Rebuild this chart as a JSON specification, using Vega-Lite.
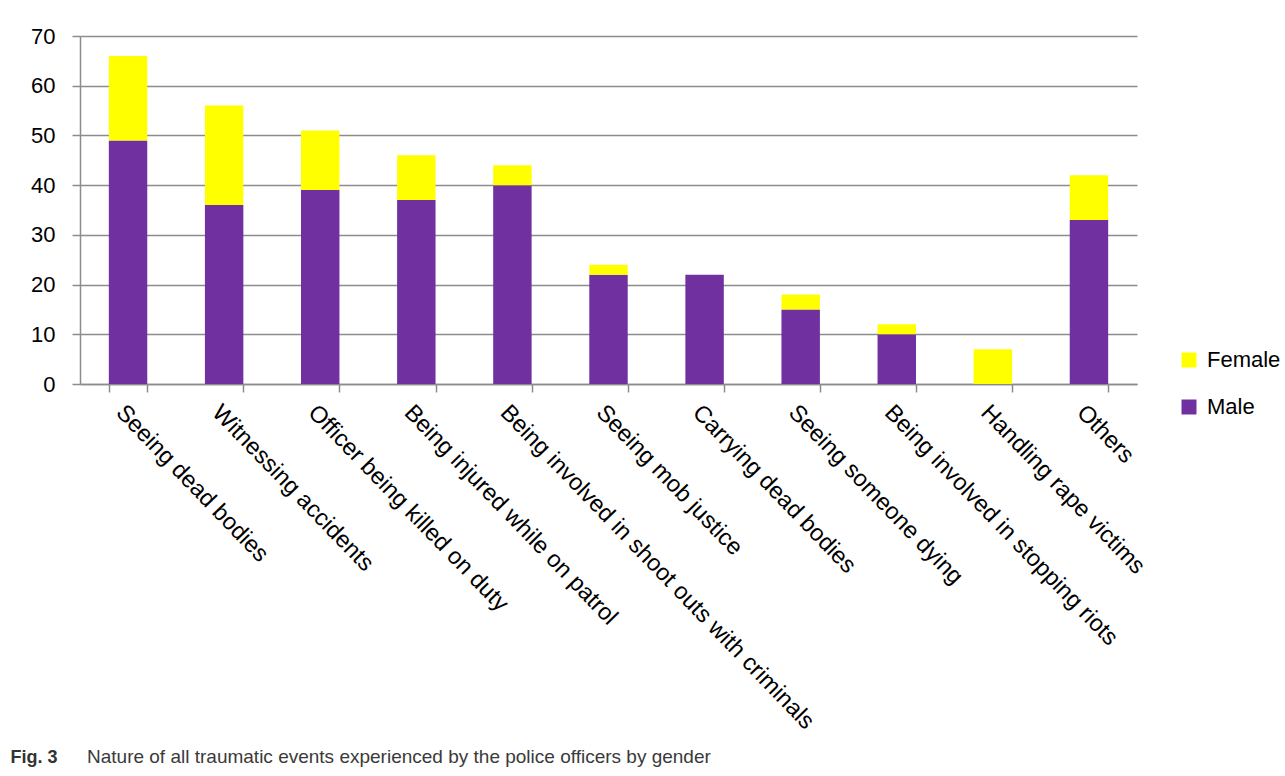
{
  "$schema": "https://vega.github.io/schema/vega-lite/v6.json",
  "width": 1057,
  "height": 348,
  "autosize": {"type": "none"},
  "padding": {"left": 80, "top": 36, "right": 148, "bottom": 392},
  "background": "white",
  "title": {
    "text": "Nature of all traumatic events experienced by the police officers by gender",
    "orient": "bottom",
    "anchor": "start",
    "frame": "group",
    "dx": 7,
    "offset": -9,
    "font": "Liberation Sans",
    "fontSize": 19,
    "fontWeight": "normal",
    "color": "#3a3a3a",
    "baseline": "middle"
  },
  "data": {
    "values": [
      {"event": "Seeing dead bodies", "gender": "Male", "count": 49},
      {"event": "Seeing dead bodies", "gender": "Female", "count": 17},
      {"event": "Witnessing accidents", "gender": "Male", "count": 36},
      {"event": "Witnessing accidents", "gender": "Female", "count": 20},
      {"event": "Officer being killed on duty", "gender": "Male", "count": 39},
      {"event": "Officer being killed on duty", "gender": "Female", "count": 12},
      {"event": "Being injured while on patrol", "gender": "Male", "count": 37},
      {"event": "Being injured while on patrol", "gender": "Female", "count": 9},
      {"event": "Being involved in shoot outs with criminals", "gender": "Male", "count": 40},
      {"event": "Being involved in shoot outs with criminals", "gender": "Female", "count": 4},
      {"event": "Seeing mob justice", "gender": "Male", "count": 22},
      {"event": "Seeing mob justice", "gender": "Female", "count": 2},
      {"event": "Carrying dead bodies", "gender": "Male", "count": 22},
      {"event": "Carrying dead bodies", "gender": "Female", "count": 0},
      {"event": "Seeing someone dying", "gender": "Male", "count": 15},
      {"event": "Seeing someone dying", "gender": "Female", "count": 3},
      {"event": "Being involved in stopping riots", "gender": "Male", "count": 10},
      {"event": "Being involved in stopping riots", "gender": "Female", "count": 2},
      {"event": "Handling rape victims", "gender": "Male", "count": 0},
      {"event": "Handling rape victims", "gender": "Female", "count": 7},
      {"event": "Others", "gender": "Male", "count": 33},
      {"event": "Others", "gender": "Female", "count": 9}
    ]
  },
  "mark": {"type": "bar"},
  "encoding": {
    "x": {
      "field": "event",
      "type": "nominal",
      "sort": null,
      "scale": {"paddingInner": 0.6, "paddingOuter": 0.3},
      "axis": {
        "title": "Fig. 3",
        "titleX": -70,
        "titleY": 373,
        "titleAlign": "left",
        "titleBaseline": "middle",
        "titleAngle": 0,
        "titleFont": "Liberation Sans",
        "titleFontSize": 18,
        "titleFontWeight": "bold",
        "titleColor": "#333333",
        "labelAngle": 46,
        "labelAlign": "left",
        "labelBaseline": "top",
        "labelFont": "Liberation Sans",
        "labelFontSize": 23.5,
        "labelColor": "#000000",
        "labelPadding": 8,
        "labelLimit": 0,
        "labelOverlap": false,
        "tickBand": "extent",
        "tickSize": 8,
        "tickColor": "#8c8c8c",
        "tickWidth": 1.5,
        "domainColor": "#8c8c8c",
        "domainWidth": 1.5,
        "grid": false
      }
    },
    "y": {
      "field": "count",
      "type": "quantitative",
      "stack": "zero",
      "scale": {"domain": [0, 70], "nice": false},
      "axis": {
        "title": null,
        "values": [0, 10, 20, 30, 40, 50, 60, 70],
        "labelFont": "Liberation Sans",
        "labelFontSize": 22,
        "labelColor": "#000000",
        "labelPadding": 17,
        "tickSize": 8,
        "tickColor": "#8c8c8c",
        "tickWidth": 1.5,
        "domainColor": "#8c8c8c",
        "domainWidth": 1.5,
        "grid": true,
        "gridColor": "#8c8c8c",
        "gridWidth": 1.5
      }
    },
    "color": {
      "field": "gender",
      "type": "nominal",
      "scale": {"domain": ["Female", "Male"], "range": ["#FFFF00", "#7030A0"]},
      "legend": {
        "title": null,
        "orient": "none",
        "legendX": 1098,
        "legendY": 313,
        "symbolType": "square",
        "symbolSize": 225,
        "symbolStrokeWidth": 0,
        "labelFont": "Liberation Sans",
        "labelFontSize": 22,
        "labelColor": "#000000",
        "labelOffset": 7,
        "rowPadding": 25
      }
    },
    "order": {"field": "gender", "sort": "descending"}
  },
  "config": {"view": {"stroke": null}}
}
